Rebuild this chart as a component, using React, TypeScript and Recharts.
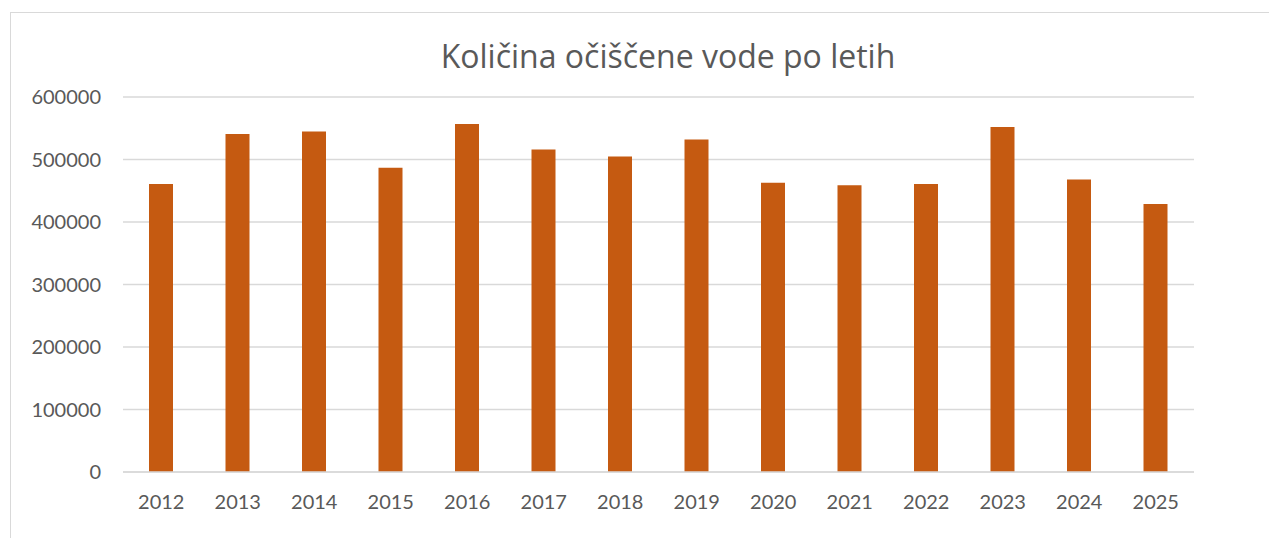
import React from 'react';
import { BarChart, Bar, XAxis, YAxis, CartesianGrid } from 'recharts';

// Yearly volume of treated water
const years = ['2012', '2013', '2014', '2015', '2016', '2017', '2018', '2019', '2020', '2021', '2022', '2023', '2024', '2025'];
const volumes = [461000, 541000, 545000, 487000, 557000, 516000, 505000, 532000, 463000, 459000, 461000, 552000, 468000, 429000];
const yTicks = [0, 100000, 200000, 300000, 400000, 500000, 600000];

const data = years.map((year, i) => ({ year, volume: volumes[i] }));

const FONT = 'Lato, "Open Sans", sans-serif';
const TITLE_FONT = '"Open Sans", Lato, sans-serif';
const TEXT_COLOR = '#595959';
const GRID_COLOR = '#d9d9d9';

export default function App() {
  return (
    <div
      style={{
        position: 'fixed',
        left: 0,
        top: 0,
        width: 1269,
        height: 538,
        overflow: 'hidden',
        background: '#fff',
        fontFamily: FONT,
      }}
    >
      {/* chart frame, larger than the viewport like in the screenshot */}
      <div
        style={{
          position: 'absolute',
          left: 10,
          top: 12,
          width: 1300,
          height: 600,
          border: `1px solid ${GRID_COLOR}`,
        }}
      />
      <div
        style={{
          position: 'absolute',
          left: 0,
          width: 1336,
          top: 36,
          textAlign: 'center',
          fontSize: 32,
          fontFamily: TITLE_FONT,
          color: TEXT_COLOR,
          lineHeight: '40px',
          whiteSpace: 'nowrap',
        }}
      >
        Količina očiščene vode po letih
      </div>
      <div style={{ position: 'absolute', left: 0, top: 0 }}>
        <BarChart
          width={1269}
          height={538}
          data={data}
          margin={{ top: 97, right: 75, bottom: 36, left: 10 }}
          barSize={24}
        >
          <CartesianGrid vertical={false} stroke={GRID_COLOR} strokeWidth={1.5} />
          <XAxis
            dataKey="year"
            axisLine={{ stroke: GRID_COLOR, strokeWidth: 1.5 }}
            tickLine={false}
            tickMargin={17}
            tick={{ fill: TEXT_COLOR, fontSize: 20, fontFamily: FONT }}
            interval={0}
          />
          <YAxis
            width={113}
            domain={[0, 600000]}
            ticks={yTicks}
            axisLine={false}
            tickLine={false}
            tickMargin={16}
            tick={{ fill: TEXT_COLOR, fontSize: 20, fontFamily: FONT }}
          />
          <Bar dataKey="volume" fill="#C55A11" isAnimationActive={false} />
        </BarChart>
      </div>
    </div>
  );
}
